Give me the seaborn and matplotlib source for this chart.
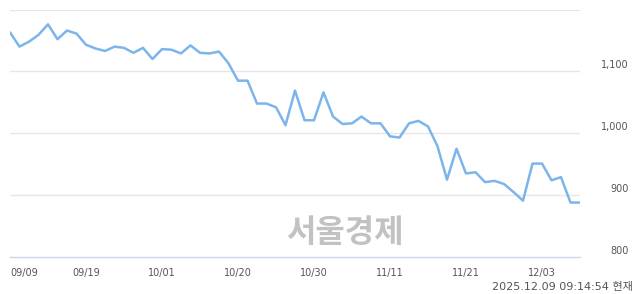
import matplotlib
matplotlib.use("Agg")
import matplotlib.pyplot as plt
import matplotlib.transforms as mtransforms
import seaborn as sns
import pandas as pd

dates = ["09/09", "09/10", "09/11", "09/12", "09/15", "09/16", "09/17", "09/18", "09/19",
         "09/22", "09/23", "09/24", "09/25", "09/26", "09/29", "09/30", "10/01",
         "10/02", "10/10", "10/13", "10/14", "10/15", "10/16", "10/17", "10/20",
         "10/21", "10/22", "10/23", "10/24", "10/27", "10/28", "10/29", "10/30",
         "10/31", "11/03", "11/04", "11/05", "11/06", "11/07", "11/10", "11/11",
         "11/12", "11/13", "11/14", "11/17", "11/18", "11/19", "11/20", "11/21",
         "11/24", "11/25", "11/26", "11/27", "11/28", "12/01", "12/02", "12/03",
         "12/04", "12/05", "12/08", "12/09"]
prices = [1163, 1140, 1148, 1159, 1176, 1152, 1166, 1161, 1143,
          1137, 1133, 1140, 1138, 1130, 1138, 1120, 1136,
          1135, 1129, 1142, 1130, 1129, 1132, 1113, 1085,
          1085, 1048, 1048, 1042, 1013, 1069, 1021, 1021,
          1066, 1027, 1015, 1016, 1027, 1016, 1016, 995,
          993, 1016, 1020, 1011, 979, 925, 975, 935,
          937, 921, 923, 918, 905, 891, 951, 951,
          924, 929, 888, 888]
tick_labels = ["09/09", "09/19", "10/01", "10/20", "10/30", "11/11", "11/21", "12/03"]
y_ticks = [800, 900, 1000, 1100]
grid_values = [900, 1000, 1100, 1200]
watermark = "서울경제"
timestamp = "2025.12.09 09:14:54 현재"

df = pd.DataFrame({"idx": range(len(dates)), "date": dates, "price": prices})

sns.set_style("white")
plt.rcParams["font.family"] = ["DejaVu Sans", "Noto Sans CJK KR"]

W, H = 640, 294
fig = plt.figure(figsize=(W / 100, H / 100), dpi=100)
ax = fig.add_axes([10 / W, (H - 257) / H, 570 / W, (257 - 9.5) / H])

for g in grid_values:
    ax.axhline(g, color="#e6e6e6", lw=1.0, zorder=0)

sns.lineplot(data=df, x="idx", y="price", ax=ax, color="#7cb5ec", lw=1.8, zorder=3)

ax.set_xlim(0, len(dates) - 1)
ax.set_ylim(800, 1200)
ax.set_xlabel("")
ax.set_ylabel("")
for s in ["top", "right", "left"]:
    ax.spines[s].set_visible(False)
ax.spines["bottom"].set_color("#ccd6eb")
ax.spines["bottom"].set_linewidth(1.0)

tick_pos = [dates.index(t) for t in tick_labels]
ax.set_xticks(tick_pos)
ax.set_xticklabels(tick_labels)
ax.tick_params(axis="x", length=6, width=1, color="#ccd6eb", direction="out",
               labelsize=7, labelcolor="#555555", pad=2)
ax.get_xticklabels()[0].set_horizontalalignment("left")
ax.set_yticks([])

offset = mtransforms.ScaledTranslation(0, 6 / 100, fig.dpi_scale_trans)
trans = mtransforms.blended_transform_factory(ax.transAxes, ax.transData) + offset
for v in y_ticks:
    ax.text((629 - 10) / 570, v, f"{v:,}", transform=trans, ha="right", va="center",
            fontsize=7, color="#555555")

fig.text(345 / W, 1 - 233 / H, watermark, ha="center", va="center", fontsize=23,
         fontweight="bold", color="#c2c2c2", family=["Noto Sans CJK KR"])
fig.text(633 / W, 1 - 287 / H, timestamp, ha="right", va="center", fontsize=8,
         color="#555555", family=["DejaVu Sans", "Noto Sans CJK KR"])

fig.savefig("out.png", dpi=100)
